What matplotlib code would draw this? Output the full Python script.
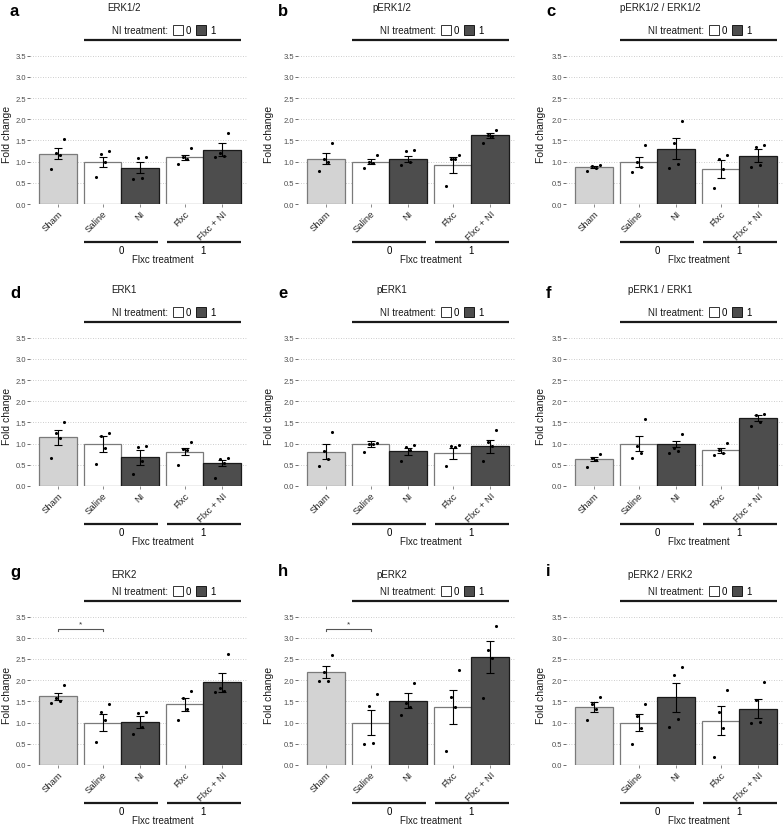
import numpy as np
import matplotlib.pyplot as plt
import matplotlib.transforms as mtransforms
from matplotlib.patches import Rectangle

plt.rcParams['font.family'] = ['Liberation Sans', 'DejaVu Sans']

# ---- data ----
groups = ['Sham', 'Saline', 'NI', 'Flxc', 'Flxc + NI']
letters = ['a', 'b', 'c', 'd', 'e', 'f', 'g', 'h', 'i']
titles = ['ERK1/2', 'pERK1/2', 'pERK1/2 / ERK1/2',
          'ERK1', 'pERK1', 'pERK1 / ERK1',
          'ERK2', 'pERK2', 'pERK2 / ERK2']

means = [[1.19, 1.00, 0.86, 1.10, 1.28],
         [1.07, 1.00, 1.06, 0.91, 1.62],
         [0.87, 1.00, 1.30, 0.83, 1.14],
         [1.15, 1.00, 0.68, 0.81, 0.54],
         [0.81, 1.00, 0.82, 0.77, 0.94],
         [0.63, 1.00, 0.99, 0.84, 1.61],
         [1.62, 1.00, 1.02, 1.43, 1.95],
         [2.20, 1.00, 1.52, 1.37, 2.55],
         [1.36, 1.00, 1.60, 1.04, 1.33]]

sems = [[0.14, 0.12, 0.14, 0.06, 0.15],
        [0.13, 0.05, 0.07, 0.19, 0.06],
        [0.03, 0.12, 0.25, 0.21, 0.16],
        [0.18, 0.19, 0.18, 0.09, 0.08],
        [0.17, 0.07, 0.08, 0.13, 0.15],
        [0.05, 0.18, 0.07, 0.06, 0.07],
        [0.08, 0.20, 0.14, 0.16, 0.22],
        [0.14, 0.29, 0.17, 0.40, 0.37],
        [0.12, 0.20, 0.34, 0.34, 0.23]]

pts_a = [[0.83, 1.15, 1.20, 1.53], [0.63, 0.99, 1.18, 1.26], [0.60, 0.62, 1.09, 1.11],
         [0.95, 1.05, 1.10, 1.32], [1.12, 1.14, 1.20, 1.67]]
pts_b = [[0.78, 1.00, 1.07, 1.44], [0.86, 0.97, 0.99, 1.16], [0.91, 1.00, 1.25, 1.27],
         [0.43, 1.05, 1.07, 1.16], [1.44, 1.60, 1.63, 1.75]]
pts_c = [[0.78, 0.86, 0.90, 0.92], [0.76, 0.87, 0.98, 1.40], [0.85, 0.95, 1.45, 1.95],
         [0.37, 0.82, 1.05, 1.15], [0.88, 0.92, 1.35, 1.38]]
pts_d = [[0.65, 1.13, 1.25, 1.52], [0.51, 0.90, 1.19, 1.25], [0.28, 0.58, 0.92, 0.95],
         [0.50, 0.85, 0.87, 1.03], [0.20, 0.55, 0.63, 0.66]]
pts_e = [[0.48, 0.63, 0.83, 1.27], [0.80, 0.98, 1.00, 1.02], [0.58, 0.85, 0.93, 0.96],
         [0.48, 0.92, 0.94, 0.96], [0.60, 0.94, 1.03, 1.31]]
pts_f = [[0.45, 0.62, 0.65, 0.75], [0.65, 0.77, 0.95, 1.57], [0.78, 0.82, 0.90, 1.23],
         [0.73, 0.77, 0.85, 1.02], [1.42, 1.50, 1.67, 1.70]]
pts_g = [[1.47, 1.50, 1.58, 1.88], [0.55, 1.05, 1.26, 1.45], [0.72, 0.90, 1.23, 1.25],
         [1.07, 1.32, 1.57, 1.74], [1.72, 1.75, 1.82, 2.61]]
pts_h = [[1.97, 1.98, 2.19, 2.60], [0.50, 0.52, 1.40, 1.68], [1.19, 1.36, 1.46, 1.93],
         [0.32, 1.36, 1.60, 2.25], [1.57, 2.52, 2.71, 3.28]]
pts_i = [[1.05, 1.33, 1.45, 1.60], [0.49, 0.87, 1.16, 1.44], [0.89, 1.08, 2.13, 2.31],
         [0.19, 0.87, 1.25, 1.78], [0.98, 1.01, 1.53, 1.95]]
all_pts = [pts_a, pts_b, pts_c, pts_d, pts_e, pts_f, pts_g, pts_h, pts_i]

signif_panels = ['g', 'h']

# ---- layout ----
xpos = np.array([0, 1.2, 2.2, 3.4, 4.4])
jit = [-0.18, 0.05, -0.05, 0.16]
fills = ['#d3d3d3', 'white', '#4d4d4d', 'white', '#4d4d4d']
edges = ['#7a7a7a', '#7a7a7a', '#1a1a1a', '#7a7a7a', '#1a1a1a']

W, H = 784, 829
fig = plt.figure(figsize=(W / 100, H / 100), dpi=100)

col_left = [30, 298, 566]
ylab_x = [7, 269, 541]
row_zero = [205, 487, 766]
title_dy = [197, 197, 191]
ax_w = 217
unit = 42.4
ymax = 3.65
xmin, xmax = -0.75, 5.07

def fx(px):
    return px / W

def fy(py):
    return 1 - py / H

for k in range(9):
    r, c = divmod(k, 3)
    left = col_left[c]
    y0 = row_zero[r]
    ax = fig.add_axes([fx(left), fy(y0), ax_w / W, ymax * unit / H])

    ax.bar(xpos, means[k], width=1.0, color=fills, edgecolor=edges, linewidth=0.9, zorder=2)
    ax.errorbar(xpos, means[k], yerr=sems[k], fmt='none', ecolor='black',
                elinewidth=0.8, capsize=2.6, capthick=0.8, zorder=3)
    for g in range(5):
        vals = sorted(all_pts[k][g])
        ax.scatter(xpos[g] + np.array(jit[:len(vals)]), vals, s=5, color='black',
                   zorder=4, linewidths=0)

    ax.set_xlim(xmin, xmax)
    ax.set_ylim(0, ymax)
    ax.set_yticks(np.arange(0, 3.51, 0.5))
    ax.set_yticklabels(['%.1f' % v for v in np.arange(0, 3.51, 0.5)])
    ax.yaxis.grid(True, linestyle=(0, (1, 2)), color='#bdbdbd', linewidth=0.6)
    ax.set_axisbelow(True)
    for s in ax.spines.values():
        s.set_visible(False)
    ax.tick_params(axis='y', length=2, width=0.6, color='#555555', pad=1,
                   labelsize=5.5, labelcolor='#4d4d4d')

    if letters[k] == 'i':
        ax.set_xticks(xpos[1:])
        ax.set_xticklabels(groups[1:])
    else:
        ax.set_xticks(xpos)
        ax.set_xticklabels(groups)
    ax.tick_params(axis='x', length=2, width=0.6, color='#777777', pad=1.5,
                   labelsize=6.8, labelcolor='#262626')
    for lab in ax.get_xticklabels():
        lab.set_rotation(45)
        lab.set_ha('right')
        lab.set_va('top')
        lab.set_rotation_mode('anchor')

    if letters[k] in signif_panels:
        ax.plot([xpos[0], xpos[0], xpos[1], xpos[1]], [3.16, 3.21, 3.21, 3.16],
                color='#555555', lw=0.8, zorder=3)
        ax.text((xpos[0] + xpos[1]) / 2, 3.25, '*', ha='center', va='bottom',
                fontsize=6, color='#333333')

    trans = mtransforms.blended_transform_factory(ax.transData, fig.transFigure)

    # panel letter and title
    fig.text(fx(left - 20), fy(y0 - 194), letters[k], fontsize=12, fontweight='bold',
             ha='left', va='center')
    fig.text(fx(left + 94), fy(y0 - title_dy[r]), titles[k], fontsize=7,
             ha='center', va='center', color='#1a1a1a')

    # NI treatment legend
    ly = y0 - 174
    fig.text(fx(left + 138), fy(ly), 'NI treatment:', fontsize=7, ha='right',
             va='center', color='#1a1a1a')
    fig.patches.append(Rectangle((fx(left + 143), fy(ly + 5)), 10 / W, 10 / H,
                                 facecolor='white', edgecolor='#333333', lw=0.7,
                                 transform=fig.transFigure, figure=fig))
    fig.text(fx(left + 156), fy(ly), '0', fontsize=7, ha='left', va='center')
    fig.patches.append(Rectangle((fx(left + 166), fy(ly + 5)), 10 / W, 10 / H,
                                 facecolor='#4d4d4d', edgecolor='#1a1a1a', lw=0.7,
                                 transform=fig.transFigure, figure=fig))
    fig.text(fx(left + 180), fy(ly), '1', fontsize=7, ha='left', va='center')
    ax.plot([0.7, 4.9], [fy(y0 - 164)] * 2, transform=trans, color='#1a1a1a',
            lw=1.6, clip_on=False, solid_capstyle='butt')

    # Flxc treatment grouping
    ax.plot([0.7, 2.68], [fy(y0 + 38)] * 2, transform=trans, color='#1a1a1a',
            lw=1.6, clip_on=False, solid_capstyle='butt')
    ax.plot([2.92, 4.9], [fy(y0 + 38)] * 2, transform=trans, color='#1a1a1a',
            lw=1.6, clip_on=False, solid_capstyle='butt')
    ax.text(1.7, fy(y0 + 46), '0', transform=trans, fontsize=7, ha='center', va='center')
    ax.text(3.9, fy(y0 + 46), '1', transform=trans, fontsize=7, ha='center', va='center')
    ax.text(2.8, fy(y0 + 55), 'Flxc treatment', transform=trans, fontsize=7,
            ha='center', va='center', color='#1a1a1a')

    # y label
    fig.text(fx(ylab_x[c]), fy(y0 - 71), 'Fold change', rotation=90, fontsize=7.5,
             ha='center', va='center', color='#1a1a1a')

fig.savefig('out.png', dpi=100)
